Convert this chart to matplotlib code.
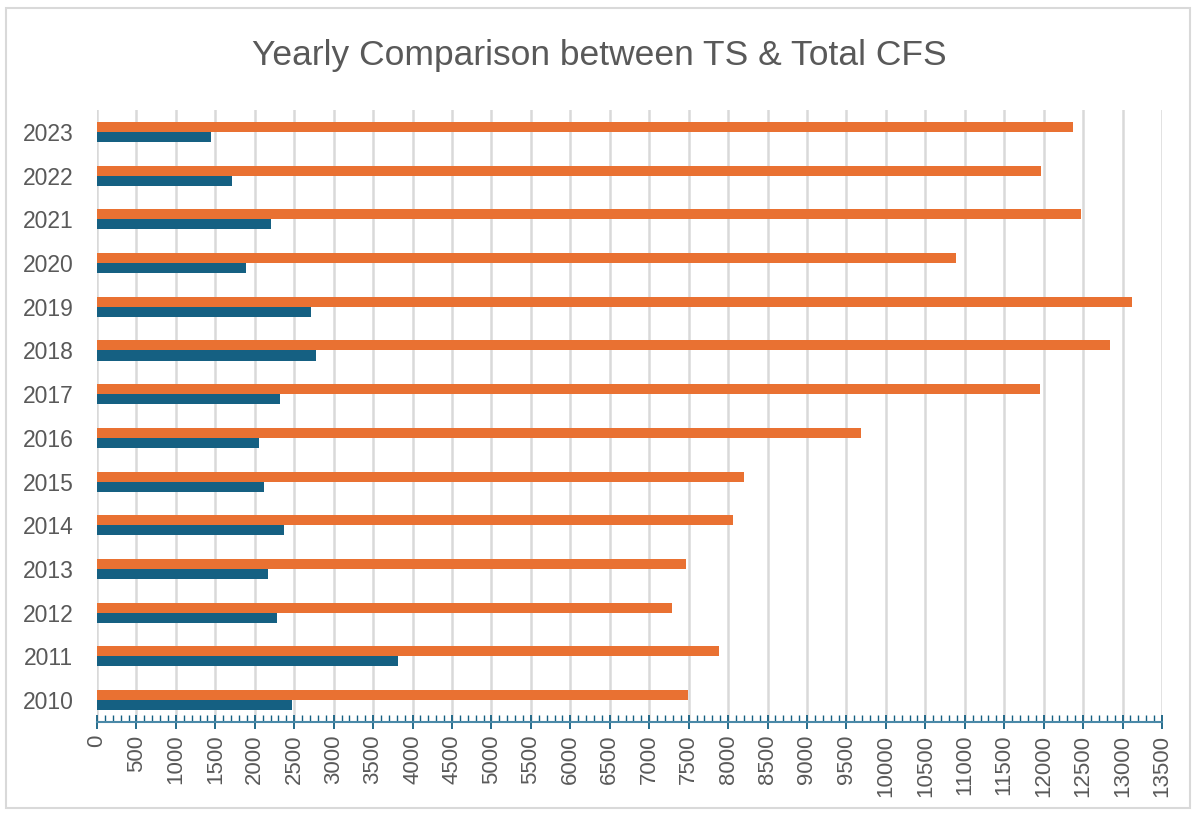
import numpy as np
import matplotlib
matplotlib.use("Agg")
import matplotlib.pyplot as plt
from matplotlib.ticker import MultipleLocator
from matplotlib.patches import Rectangle

# data
years = [2010, 2011, 2012, 2013, 2014, 2015, 2016, 2017, 2018, 2019, 2020, 2021, 2022, 2023]
total_cfs = [7490, 7880, 7290, 7470, 8060, 8200, 9680, 11955, 12840, 13125, 10890, 12475, 11970, 12378]
ts = [2475, 3815, 2280, 2165, 2370, 2115, 2050, 2320, 2775, 2710, 1890, 2208, 1713, 1448]

orange = "#E97132"
blue = "#156082"
text_col = "#595959"

plt.rcParams['font.family'] = ['Liberation Sans', 'DejaVu Sans']

fig = plt.figure(figsize=(11.93, 8.15), dpi=100)
ax = fig.add_axes([0.0813, 0.1141, 0.974 - 0.0813, 0.865 - 0.1141])

y = np.arange(len(years))
h = 0.23
ax.barh(y + h / 2, total_cfs, height=h, color=orange, label="Total CFS", zorder=3)
ax.barh(y - h / 2, ts, height=h, color=blue, label="TS", zorder=3)

ax.set_xlim(0, 13500)
ax.set_ylim(-0.5, len(years) - 0.5)
ax.xaxis.set_major_locator(MultipleLocator(500))
ax.xaxis.set_minor_locator(MultipleLocator(100))
ax.set_yticks(y)
ax.set_yticklabels([str(v) for v in years])

ax.grid(axis='x', which='major', color='#D9D9D9', linewidth=1.8, zorder=0)
for s in ['top', 'right', 'left']:
    ax.spines[s].set_visible(False)
ax.spines['bottom'].set_color('#4A89A8')
ax.spines['bottom'].set_linewidth(1.5)

ax.tick_params(axis='x', which='major', direction='inout', length=10, width=1.3,
               color=blue, labelsize=16, labelcolor=text_col, labelrotation=90, pad=4)
ax.tick_params(axis='x', which='minor', direction='in', length=5, width=1.0, color=blue)
ax.tick_params(axis='y', length=0, labelsize=16.5, labelcolor=text_col, pad=17)

fig.text(0.502, 0.932, "Yearly Comparison between TS & Total CFS", ha='center', va='center',
         fontsize=25.5, color=text_col)

fig.patches.append(Rectangle((6 / 1193, 7 / 815), 1184 / 1193, 800 / 815, transform=fig.transFigure,
                             fill=False, edgecolor='#D9D9D9', linewidth=1.5))

fig.savefig("out.png", dpi=100, facecolor='white')
